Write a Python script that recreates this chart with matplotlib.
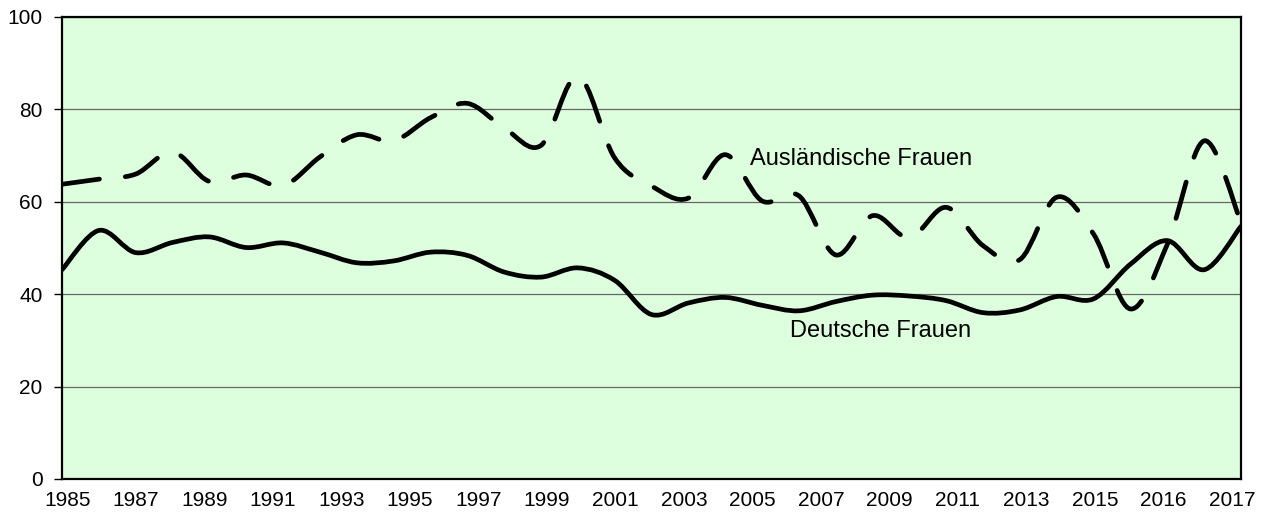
import numpy as np
import matplotlib
matplotlib.use("Agg")
import matplotlib.pyplot as plt
from matplotlib.path import Path
from matplotlib.patches import PathPatch

# Daten
years = list(range(1985, 2018))
deutsche = [45.3, 53.8, 49.0, 51.2, 52.4, 50.1, 51.1, 49.1, 46.8, 47.2,
            49.1, 48.4, 44.8, 43.7, 45.7, 43.0, 35.6, 38.1, 39.3, 37.6,
            36.4, 38.4, 39.8, 39.6, 38.6, 36.0, 36.6, 39.5, 39.0, 46.5,
            51.6, 45.3, 54.7]
auslaendische = [63.8, 64.9, 66.0, 70.8, 64.4, 65.8, 63.5, 69.7, 74.5, 73.2,
                 78.2, 81.3, 76.0, 72.2, 87.2, 69.5, 63.4, 60.8, 70.2, 60.2,
                 61.3, 48.5, 57.0, 52.2, 58.8, 50.5, 47.5, 61.0, 53.0, 36.8,
                 50.8, 73.2, 55.5]
tick_labels = ["1985", "1987", "1989", "1991", "1993", "1995", "1997", "1999",
               "2001", "2003", "2005", "2007", "2009", "2011", "2013", "2015",
               "2016", "2017"]

FONT = "Liberation Sans"


def smooth_path(xs, ys):
    # Excel-artige geglaettete Linie: Bezier-Segmente (Catmull-Rom)
    pts = np.column_stack([xs, ys]).astype(float)
    n = len(pts)
    verts = [pts[0]]
    codes = [Path.MOVETO]
    for i in range(n - 1):
        p0 = pts[max(i - 1, 0)]
        p1 = pts[i]
        p2 = pts[i + 1]
        p3 = pts[min(i + 2, n - 1)]
        verts += [p1 + (p2 - p0) / 6, p2 - (p3 - p1) / 6, p2]
        codes += [Path.CURVE4] * 3
    return Path(verts, codes)


fig = plt.figure(figsize=(12.75, 5.19), dpi=100)
ax = fig.add_axes([62 / 1275, 1 - 479 / 519, (1241 - 62) / 1275, (479 - 17) / 519])
ax.set_facecolor("#DDFFDD")
ax.set_xlim(years[0], years[-1])
ax.set_ylim(0, 100)

ax.add_patch(PathPatch(smooth_path(years, deutsche), fill=False, color="black",
                       lw=3.4, capstyle="round", joinstyle="round", zorder=3))
ax.add_patch(PathPatch(smooth_path(years, auslaendische), fill=False, color="black",
                       lw=3.4, linestyle=(0, (8, 5.5)), capstyle="round",
                       joinstyle="round", zorder=3))

ax.text(2003.68, 67.9, "Ausländische Frauen", fontsize=17, family=FONT,
        ha="left", va="baseline")
ax.text(2004.76, 30.8, "Deutsche Frauen", fontsize=17, family=FONT,
        ha="left", va="baseline")

# Achsen
ax.set_yticks(range(0, 101, 20))
ax.yaxis.grid(True, color="#666666", lw=0.9)
ax.set_axisbelow(True)
ax.set_xticks(np.linspace(years[0] + 0.15, years[-1] - 0.25, len(tick_labels)))
ax.set_xticklabels(tick_labels)
ax.tick_params(axis="y", length=6, width=1, pad=8, labelsize=15)
ax.tick_params(axis="x", length=0, pad=9, labelsize=15)
for lab in ax.get_xticklabels() + ax.get_yticklabels():
    lab.set_family(FONT)
for sp in ax.spines.values():
    sp.set_color("black")
    sp.set_linewidth(1.6)

fig.savefig("out.png", dpi=100)
